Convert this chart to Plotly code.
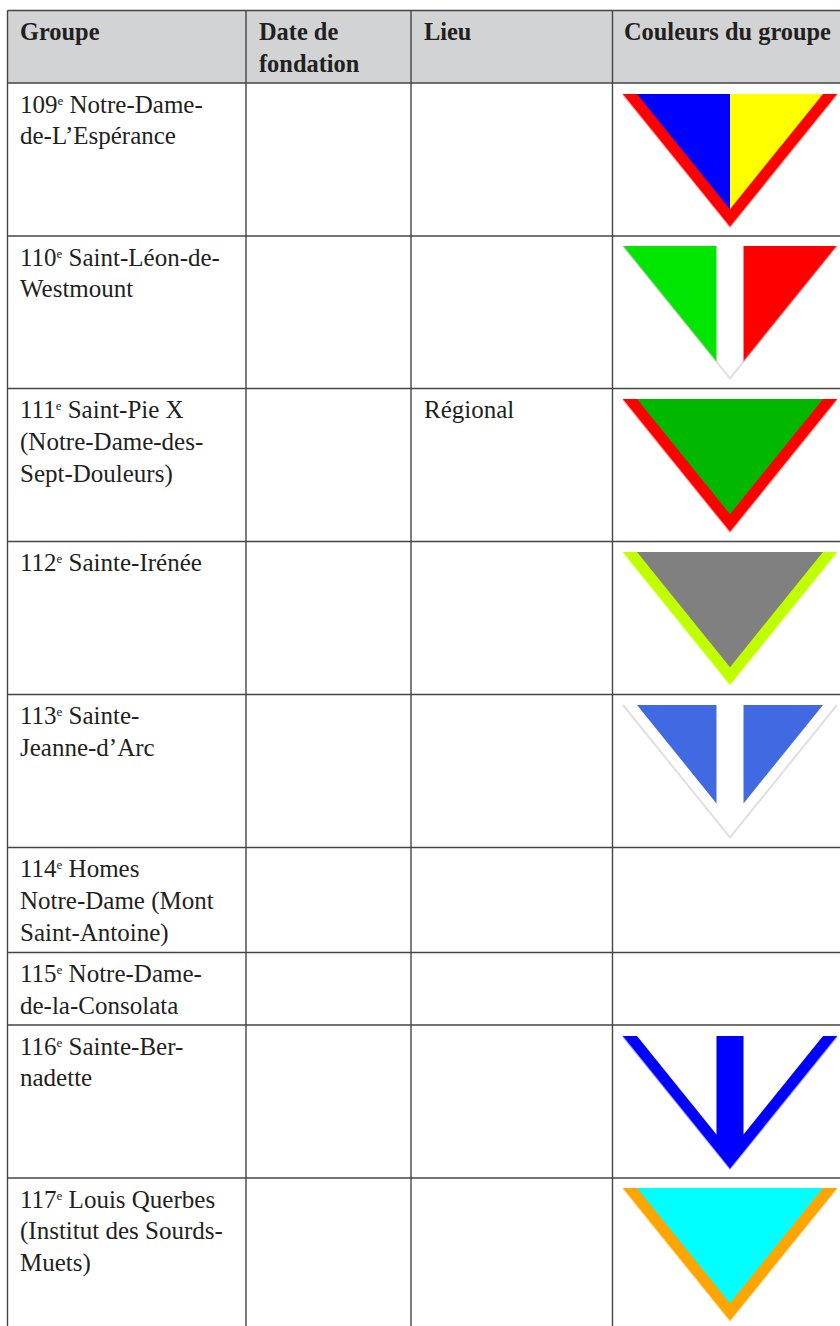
import plotly.graph_objects as go

# ---- table content ----
E = '<span style="font-size:13px;baseline-shift:8.5px">e</span>'
headers = [["Groupe"], ["Date de", "fondation"], ["Lieu"], ["Couleurs du groupe"]]
groupes = [
    ["109" + E + " Notre-Dame-", "de-L’Espérance"],
    ["110" + E + " Saint-Léon-de-", "Westmount"],
    ["111" + E + " Saint-Pie X", "(Notre-Dame-des-", "Sept-Douleurs)"],
    ["112" + E + " Sainte-Irénée"],
    ["113" + E + " Sainte-", "Jeanne-d’Arc"],
    ["114" + E + " Homes", "Notre-Dame (Mont", "Saint-Antoine)"],
    ["115" + E + " Notre-Dame-", "de-la-Consolata"],
    ["116" + E + " Sainte-Ber-", "nadette"],
    ["117" + E + " Louis Querbes", "(Institut des Sourds-", "Muets)"],
]
lieux = ["", "", "Régional", "", "", "", "", "", ""]

# pennant colours per row: border, left, band, right (None = absent)
flag_border = ["#ff0000", "#ffffff", "#ff0000", "#c0ff00", "#ffffff", None, None, "#0000ff", "#ffa500"]
flag_left   = ["#0000ff", "#00e600", "#00b800", "#808080", "#4169e1", None, None, "#ffffff", "#00ffff"]
flag_band   = [None, "#ffffff", None, None, "#ffffff", None, None, "#0000ff", None]
flag_right  = ["#ffff00", "#ff0000", "#00b800", "#808080", "#4169e1", None, None, "#ffffff", "#00ffff"]
flag_bordered = [True, False, True, True, True, False, False, True, True]
flag_edge   = ["#ff0000", "#b4b4b4", "#ff0000", "#c0ff00", "#b4b4b4", None, None, "#0000ff", "#ffa500"]

# ---- layout geometry (pixels of the page) ----
W, H = 840, 1326
col_x = [7.5, 246, 411, 612.5, 845]
text_x = [20, 259, 424, 624]
row_y = [10.5, 83, 236, 388.5, 541.5, 694.5, 847.5, 952.5, 1025, 1178, 1340]
LINE_COLOR = "#454545"
TEXT_COLOR = "#231f20"
HEAD_BG = "#d1d3d4"
FONT = "Liberation Serif"
SIZE = 25
HEAD_SIZE = 24.4
LEADING = 31.7
FIRST = 23.5
F_LEFT, F_RIGHT, F_DY, F_H = 623, 837, 10.5, 132.5
INNER_HW = 93
BAND_HW = 13.3

fig = go.Figure()


def poly(xs, ys, color):
    fig.add_trace(go.Scatter(x=xs, y=ys, mode="lines", fill="toself", fillcolor=color,
                             line=dict(color=color, width=0), hoverinfo="skip", showlegend=False))


def draw_flag(i):
    if flag_border[i] is None:
        return
    top = round(row_y[i + 1] + F_DY)
    cx = (F_LEFT + F_RIGHT) / 2
    full = (F_RIGHT - F_LEFT) / 2
    slope = F_H / full
    apex = top + F_H
    poly([F_LEFT, F_RIGHT, cx], [top, top, apex], flag_border[i])
    hw = INNER_HW if flag_bordered[i] else full
    a2 = top + hw * slope
    if flag_band[i]:
        yb = a2 - BAND_HW * slope
        poly([cx - hw, cx - BAND_HW, cx - BAND_HW], [top, top, yb], flag_left[i])
        poly([cx + BAND_HW, cx + hw, cx + BAND_HW], [top, top, yb], flag_right[i])
        poly([cx - BAND_HW, cx + BAND_HW, cx + BAND_HW, cx, cx - BAND_HW],
             [top, top, yb, a2, yb], flag_band[i])
    else:
        poly([cx - hw, cx, cx], [top, top, a2], flag_left[i])
        poly([cx, cx + hw, cx], [top, top, a2], flag_right[i])
    # soft outer edge
    fig.add_trace(go.Scatter(x=[F_LEFT, cx, F_RIGHT], y=[top, apex, top], mode="lines",
                             line=dict(color=flag_edge[i], width=2), opacity=0.4,
                             hoverinfo="skip", showlegend=False))


for i in range(len(groupes)):
    draw_flag(i)

# text
hx, hy, ht = [], [], []
for j, lines in enumerate(headers):
    for k, s in enumerate(lines):
        hx.append(text_x[j]); hy.append(row_y[0] + FIRST + k * LEADING); ht.append(s)
fig.add_trace(go.Scatter(x=hx, y=hy, text=ht, mode="text", textposition="middle right",
                         textfont=dict(family=FONT, size=HEAD_SIZE, color=TEXT_COLOR, weight="bold"),
                         hoverinfo="skip", showlegend=False, cliponaxis=False))
bx, by, bt = [], [], []
for i, lines in enumerate(groupes):
    for k, s in enumerate(lines):
        bx.append(text_x[0]); by.append(row_y[i + 1] + FIRST + k * LEADING); bt.append(s)
    if lieux[i]:
        bx.append(text_x[2]); by.append(row_y[i + 1] + FIRST); bt.append(lieux[i])
fig.add_trace(go.Scatter(x=bx, y=by, text=bt, mode="text", textposition="middle right",
                         textfont=dict(family=FONT, size=SIZE, color=TEXT_COLOR),
                         hoverinfo="skip", showlegend=False, cliponaxis=False))

# table rules
shapes = [dict(type="rect", xref="x", yref="y", x0=col_x[0], x1=col_x[-1], y0=row_y[0], y1=row_y[1],
               fillcolor=HEAD_BG, line_width=0, layer="below")]
for x in col_x[:-1]:
    shapes.append(dict(type="line", xref="x", yref="y", x0=x, x1=x, y0=row_y[0], y1=row_y[-1],
                       line=dict(color=LINE_COLOR, width=1.4), layer="above"))
for y in row_y[:-1]:
    shapes.append(dict(type="line", xref="x", yref="y", x0=col_x[0], x1=col_x[-1], y0=y, y1=y,
                       line=dict(color=LINE_COLOR, width=1.4), layer="above"))

fig.update_layout(
    width=W, height=H, margin=dict(l=0, r=0, t=0, b=0),
    paper_bgcolor="#ffffff", plot_bgcolor="#ffffff", shapes=shapes, showlegend=False,
    xaxis=dict(range=[0, W], visible=False, fixedrange=True),
    yaxis=dict(range=[H, 0], visible=False, fixedrange=True),
)
fig.write_html("out.html", config={"displayModeBar": False},
               post_script="document.body.style.margin='0';document.body.style.overflow='hidden';")
